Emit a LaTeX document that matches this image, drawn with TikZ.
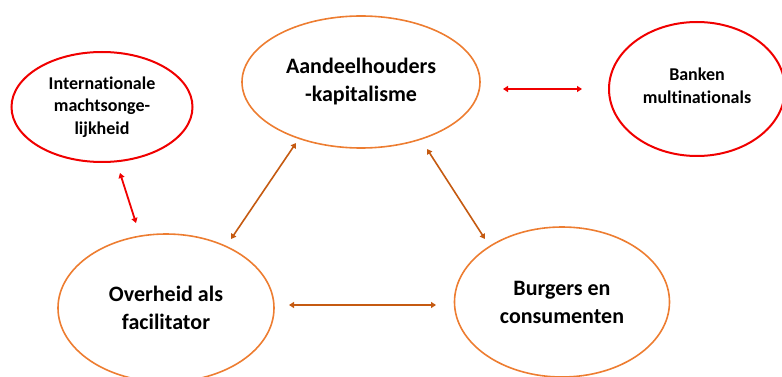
\documentclass[tikz,border=0pt]{standalone}
\usepackage{fontspec}
\setmainfont{Carlito}[Ligatures=NoCommon]
\usetikzlibrary{shapes.geometric,arrows.meta}
\definecolor{ringorange}{HTML}{ED7D31}
\definecolor{ringred}{HTML}{F00000}
\definecolor{arroworange}{HTML}{C55A11}
\tikzset{
  bubble/.style={ellipse, draw, inner sep=0pt, align=center, font=\bfseries},
  orangebubble/.style={bubble, draw=ringorange, line width=1.6pt, font=\fontsize{22}{28}\selectfont\bfseries},
  redbubble/.style={bubble, draw=ringred, line width=2pt, font=\fontsize{18}{22.5}\selectfont\bfseries},
  redlink/.style={draw=ringred, line width=1.8pt, {Triangle[length=5pt,width=6pt]}-{Triangle[length=5pt,width=6pt]}},
  orangelink/.style={draw=arroworange, line width=1.6pt, {Triangle[length=5pt,width=6pt]}-{Triangle[length=5pt,width=6pt]}}
}
\begin{document}
\begin{tikzpicture}[x=1pt,y=-1pt]
\useasboundingbox (0,0) rectangle (782,377);
\node[redbubble, minimum width=181pt, minimum height=110pt] (intl) at (102,107) {Internationale\\machtsonge-\\lijkheid};
\node[orangebubble, minimum width=238pt, minimum height=132pt] (aand) at (361,82) {Aandeelhouders\\-kapitalisme};
\node[redbubble, minimum width=176pt, minimum height=134pt] (bank) at (697,89) {Banken\\multinationals\\[-16pt]};
\node[orangebubble, minimum width=216pt, minimum height=148pt] (over) at (166,308) {Overheid als\\facilitator};
\node[orangebubble, minimum width=215pt, minimum height=150pt] (burg) at (562,302) {Burgers en\\consumenten};
\coordinate (ra1) at (503,89);
\coordinate (ra2) at (582,89);
\coordinate (rb1) at (120,173);
\coordinate (rb2) at (136,223);
\coordinate (oa1) at (296,143);
\coordinate (oa2) at (231,239);
\coordinate (ob1) at (427,149);
\coordinate (ob2) at (485,239);
\coordinate (oc1) at (289,305);
\coordinate (oc2) at (436,305);
\draw[redlink] (ra1) -- (ra2);
\draw[redlink] (rb1) -- (rb2);
\draw[orangelink] (oa1) -- (oa2);
\draw[orangelink] (ob1) -- (ob2);
\draw[orangelink] (oc1) -- (oc2);
\end{tikzpicture}
\end{document}
